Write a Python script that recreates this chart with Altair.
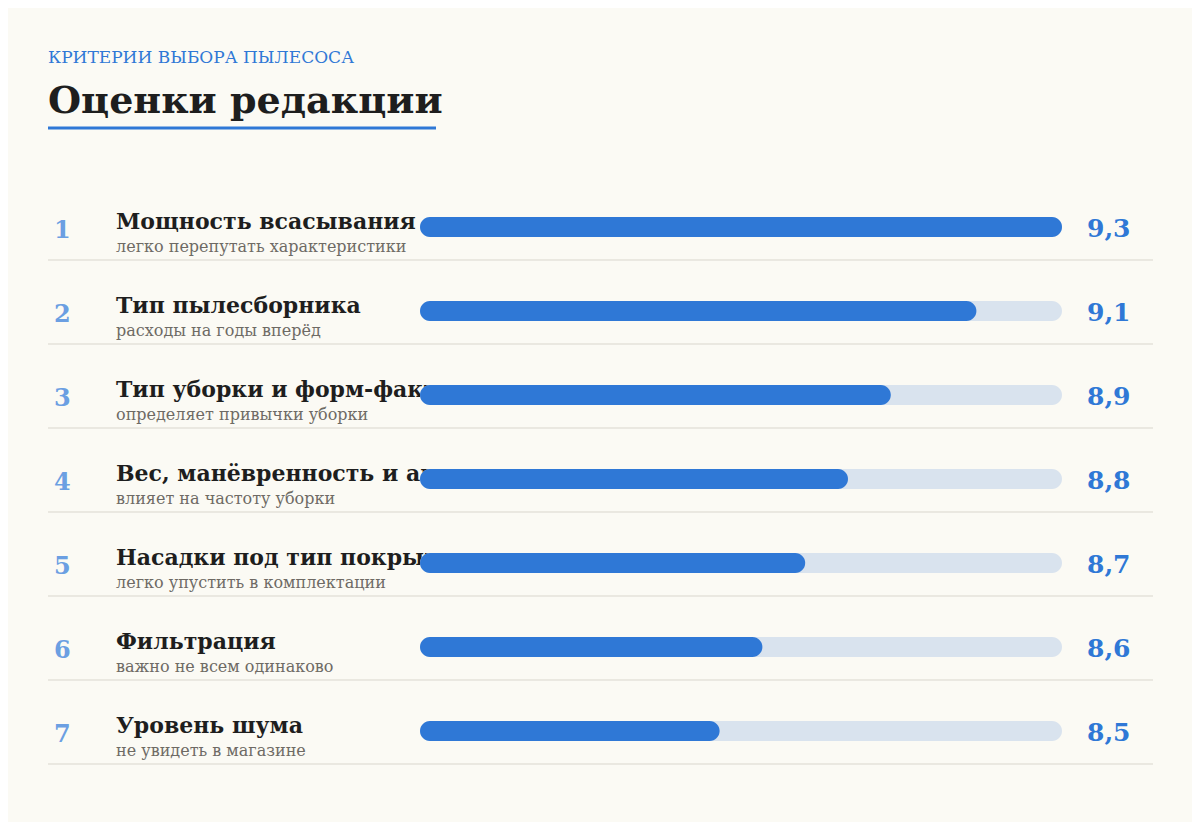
import altair as alt
import pandas as pd

ranks = [1, 2, 3, 4, 5, 6, 7]
labels = [
    "Мощность всасывания",
    "Тип пылесборника",
    "Тип уборки и форм-фактор",
    "Вес, манёвренность и автономность",
    "Насадки под тип покрытия",
    "Фильтрация",
    "Уровень шума",
]
notes = [
    "легко перепутать характеристики",
    "расходы на годы вперёд",
    "определяет привычки уборки",
    "влияет на частоту уборки",
    "легко упустить в комплектации",
    "важно не всем одинаково",
    "не увидеть в магазине",
]
scores = [9.3, 9.1, 8.9, 8.8, 8.7, 8.6, 8.5]
score_text = ["9,3", "9,1", "8,9", "8,8", "8,7", "8,6", "8,5"]

kicker = "КРИТЕРИИ ВЫБОРА ПЫЛЕСОСА"
headline = "Оценки редакции"

df = pd.DataFrame({
    "rank": ranks,
    "label": labels,
    "note": notes,
    "score": scores,
    "score_text": score_text,
})

SERIF = "Georgia, 'DejaVu Serif', 'Liberation Serif', serif"
BLUE = "#2f78d6"
LIGHT_BLUE = "#6b9fe2"
TRACK = "#d9e3ee"
BG = "#fbfaf4"

xscale = alt.Scale(domain=[7.8, 9.3], range=[412, 1054], padding=0, nice=False)
yscale = alt.Scale(domain=[1, 7], range=[219, 723], padding=0, nice=False)
Y = alt.Y("rank:Q", scale=yscale, axis=None)

base = alt.Chart(df)

sep = base.mark_rule(color="#d9d6cd", strokeWidth=1, yOffset=33).encode(
    y=Y, x=alt.value(40), x2=alt.value(1145)
)

rank_txt = base.mark_text(
    font=SERIF, fontSize=24, fontWeight="bold", color=LIGHT_BLUE, align="left",
    baseline="middle", dy=4
).encode(y=Y, x=alt.value(46), text="rank:N")

label_txt = base.mark_text(
    font=SERIF, fontSize=22, fontWeight="bold", color="#1e1e1e", align="left",
    baseline="alphabetic", dy=2
).encode(y=Y, x=alt.value(108), text="label:N")

note_txt = base.mark_text(
    font=SERIF, fontSize=16, color="#6e6a64", align="left", baseline="alphabetic", dy=25
).encode(y=Y, x=alt.value(108), text="note:N")

track = base.mark_bar(height=20, cornerRadius=10, color=TRACK).encode(
    y=Y, x=alt.X(datum=7.8, scale=xscale, axis=None), x2=alt.datum(9.3)
)

fill = base.mark_bar(height=20, cornerRadius=10, color=BLUE).encode(
    y=Y, x=alt.X("score:Q", scale=xscale, axis=None), x2=alt.datum(7.8)
)

val_txt = base.mark_text(
    font=SERIF, fontSize=25, fontWeight="bold", color=BLUE, align="left",
    baseline="middle", dy=2
).encode(y=Y, x=alt.value(1079), text="score_text:N")

head_df = pd.DataFrame({"kicker": [kicker], "headline": [headline]})
hbase = alt.Chart(head_df)

kicker_txt = hbase.mark_text(
    font=SERIF, fontSize=17, color=BLUE, align="left", baseline="alphabetic"
).encode(x=alt.value(40), y=alt.value(55), text="kicker:N")

headline_txt = hbase.mark_text(
    font=SERIF, fontSize=38, fontWeight="bold", color="#1e1e1e", align="left",
    baseline="alphabetic"
).encode(x=alt.value(40), y=alt.value(105), text="headline:N")

underline = hbase.mark_rule(color=BLUE, strokeWidth=3).encode(
    x=alt.value(40), x2=alt.value(428), y=alt.value(120)
)

chart = alt.layer(
    sep, rank_txt, label_txt, note_txt, track, fill, val_txt,
    kicker_txt, headline_txt, underline
).properties(
    width=1184, height=814,
    autosize=alt.AutoSizeParams(type="none"),
    padding=0,
    background=BG,
).configure_view(stroke=None)

chart.save("out.html", embed_options={"renderer": "svg", "actions": False})
